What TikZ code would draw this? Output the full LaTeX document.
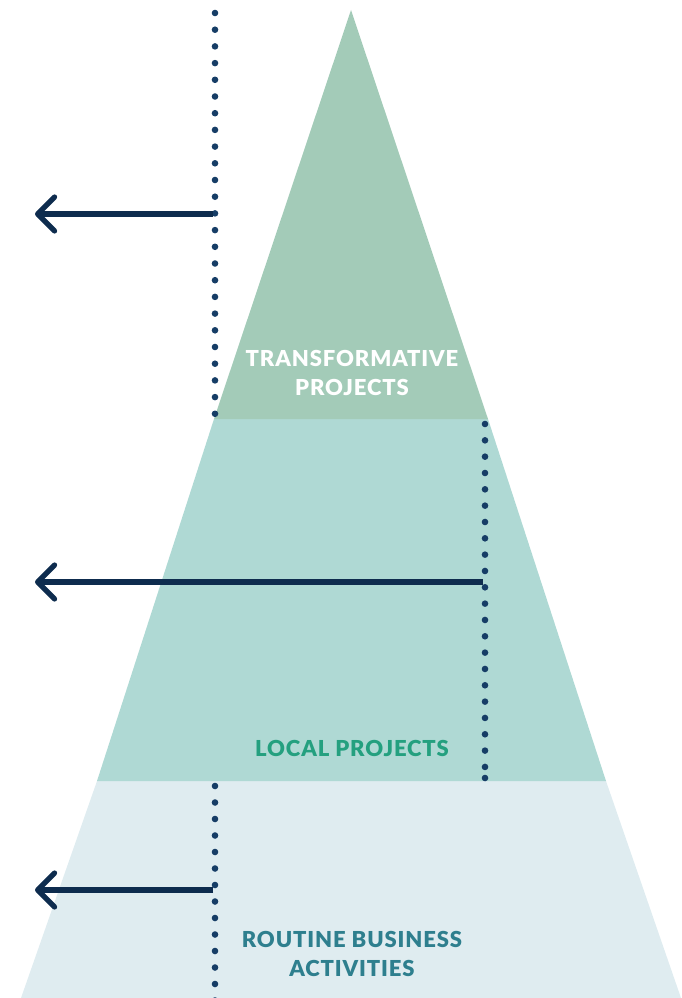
\documentclass[tikz,border=0pt]{standalone}
\usepackage{fontspec}
\setmainfont{Lato}[UprightFont=* Black, LetterSpace=4]
\usetikzlibrary{arrows.meta}
\definecolor{topc}{HTML}{A3CBB8}
\definecolor{midc}{HTML}{AFD9D4}
\definecolor{botc}{HTML}{DFECF0}
\definecolor{navy}{HTML}{0E2C4E}
\definecolor{dotc}{HTML}{163D66}
\definecolor{greentxt}{HTML}{24A07F}
\definecolor{tealtxt}{HTML}{2E7F8E}
\tikzset{
  dots/.style={draw=dotc, line width=6.6pt, line cap=round, dash pattern=on 0pt off 16.7pt},
  leftarrow/.style={draw=navy, line width=5.2pt, -{Straight Barb[length=17pt,width=34pt,round]}},
  label/.style={font=\fontsize{22}{29}\selectfont, align=center, inner sep=0pt}
}
\begin{document}
\begin{tikzpicture}[x=1pt,y=-1pt]
\useasboundingbox (0,0) rectangle (682,998);
% layers
\fill[botc] (97,781) -- (606,781) -- (681,998) -- (21,998) -- cycle;
\fill[midc] (214,419) -- (488,419) -- (606,781) -- (97,781) -- cycle;
\fill[topc] (351,10) -- (488,419) -- (214,419) -- cycle;
% dotted lines
\coordinate (d1a) at (215,13);
\coordinate (d1b) at (215,418);
\coordinate (d2a) at (485,424);
\coordinate (d2b) at (485,778);
\coordinate (d3a) at (215,786);
\coordinate (d3b) at (215,1008);
\draw[dots] (d1a) -- (d1b);
\draw[dots, dash pattern=on 0pt off 16.33pt] (d2a) -- (d2b);
\fill[dotc] (d2b) circle (3.3pt);
\draw[dots, dash pattern=on 0pt off 16.5pt] (d3a) -- (d3b);
% arrows
\coordinate (a1s) at (213,214);
\coordinate (a1e) at (35,214);
\coordinate (a2s) at (483,582);
\coordinate (a2e) at (35,582);
\coordinate (a3s) at (213,890);
\coordinate (a3e) at (35,890);
\draw[leftarrow] (a1s) -- (a1e);
\draw[leftarrow] (a2s) -- (a2e);
\draw[leftarrow] (a3s) -- (a3e);
% labels
\node[label, text=white] (top) at (352,373) {TRANSFORMATIVE\\PROJECTS};
\node[label, text=greentxt] (mid) at (352,748) {LOCAL PROJECTS};
\node[label, text=tealtxt] (bot) at (352,954) {ROUTINE BUSINESS\\ACTIVITIES};
\end{tikzpicture}
\end{document}
